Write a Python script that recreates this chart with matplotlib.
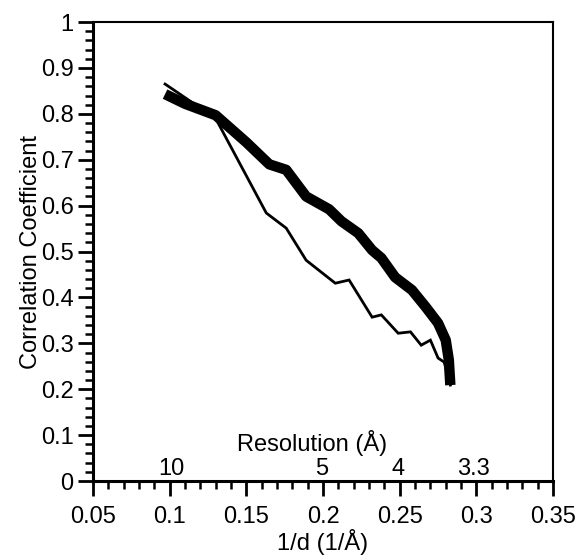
import numpy as np
import matplotlib.pyplot as plt
from matplotlib.ticker import MultipleLocator

plt.rcParams['font.family'] = ['Liberation Sans', 'DejaVu Sans']

# thick curve
thick_x = [0.097, 0.110, 0.130, 0.150, 0.165, 0.176, 0.189, 0.204, 0.212, 0.223,
           0.232, 0.238, 0.247, 0.258, 0.267, 0.275, 0.280, 0.282, 0.283]
thick_y = [0.843, 0.822, 0.797, 0.738, 0.690, 0.678, 0.620, 0.592, 0.566, 0.540,
           0.503, 0.486, 0.444, 0.416, 0.379, 0.344, 0.307, 0.264, 0.209]

# thin curve
thin_x = [0.097, 0.130, 0.163, 0.176, 0.189, 0.208, 0.217, 0.232, 0.238, 0.249,
          0.257, 0.264, 0.270, 0.275, 0.279, 0.283]
thin_y = [0.865, 0.790, 0.584, 0.551, 0.481, 0.431, 0.438, 0.357, 0.362, 0.322,
          0.325, 0.296, 0.307, 0.268, 0.259, 0.209]

# resolution labels on the x axis
res_labels = ['10', '5', '4', '3.3']
res_pos = [0.101, 0.199, 0.249, 0.298]

fig = plt.figure(figsize=(5.81, 5.59), dpi=100)
ax = fig.add_axes([0.160, 0.1395, 0.792, 0.821])

ax.plot(thin_x, thin_y, color='black', linewidth=2.0, solid_joinstyle='miter')
ax.plot(thick_x, thick_y, color='black', linewidth=7.5, solid_capstyle='butt')

ax.set_xlim(0.05, 0.35)
ax.set_ylim(0, 1)
ax.xaxis.set_major_locator(MultipleLocator(0.05))
ax.xaxis.set_minor_locator(MultipleLocator(0.01))
ax.yaxis.set_major_locator(MultipleLocator(0.1))
ax.yaxis.set_minor_locator(MultipleLocator(0.02))
ax.set_xticklabels([f'{v:g}' for v in ax.get_xticks()])
ax.set_yticklabels([f'{v:g}' for v in ax.get_yticks()])

for side in ['left', 'bottom']:
    ax.spines[side].set_linewidth(2.2)
for side in ['top', 'right']:
    ax.spines[side].set_linewidth(1.5)

ax.tick_params(which='major', direction='out', length=11, width=2, labelsize=17, pad=3)
ax.tick_params(which='minor', direction='out', length=6, width=1.8)
ax.tick_params(axis='x', which='major', pad=7)

ax.set_xlabel('1/d (1/Å)', fontsize=17, labelpad=1)
ax.set_ylabel('Correlation Coefficient', fontsize=17, labelpad=-1)

for lab, x in zip(res_labels, res_pos):
    ax.text(x, 0.002, lab, ha='center', va='bottom', fontsize=17)
ax.text(0.193, 0.083, 'Resolution (Å)', ha='center', va='center', fontsize=17)

fig.savefig('out.png', dpi=100)
